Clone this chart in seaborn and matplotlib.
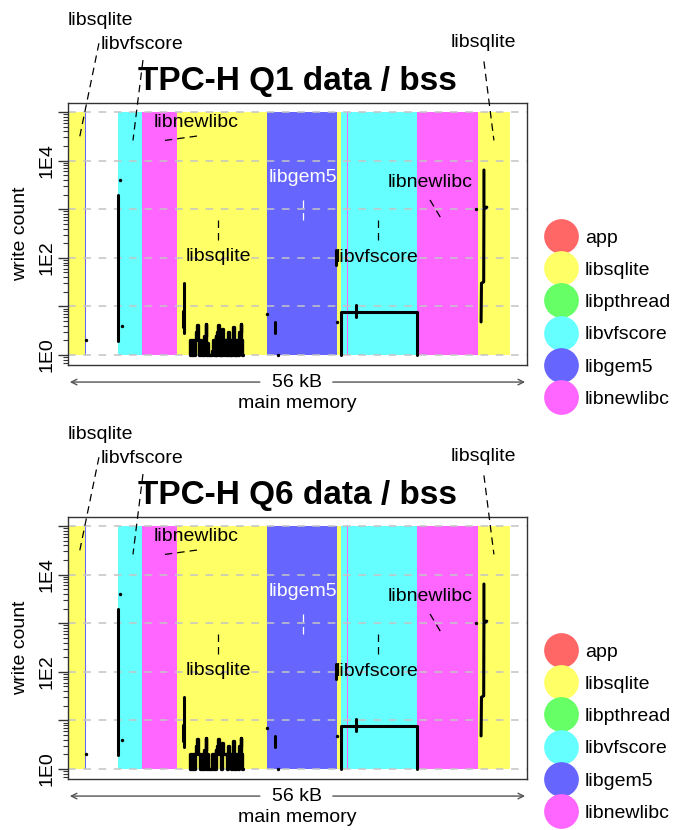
import numpy as np
import pandas as pd
import matplotlib
matplotlib.use("Agg")
import matplotlib.pyplot as plt
from matplotlib.lines import Line2D
from matplotlib.ticker import FixedLocator, FixedFormatter, LogLocator, NullFormatter
import seaborn as sns

# library colours
lib_colors = {
    "app": "#FF6666",
    "libsqlite": "#FFFF66",
    "libpthread": "#66FF66",
    "libvfscore": "#66FFFF",
    "libgem5": "#6666FF",
    "libnewlibc": "#FF66FF",
}
legend_libs = ["app", "libsqlite", "libpthread", "libvfscore", "libgem5", "libnewlibc"]

# memory regions (kB offsets inside the 56 kB data / bss window)
region_lib = ["libsqlite", "libgem5", "libvfscore", "libnewlibc", "libsqlite", "libgem5",
              "libsqlite", "libvfscore", "libnewlibc", "libnewlibc", "libsqlite"]
region_start = [0.00, 2.09, 6.10, 9.03, 13.30, 24.28, 32.82, 33.31, 34.02, 42.58, 50.02]
region_end = [2.09, 2.19, 9.03, 13.30, 24.28, 32.82, 33.31, 42.58, 34.12, 50.02, 53.93]

# region annotations
ann_text = ["libsqlite", "libvfscore", "libnewlibc", "libgem5",
            "libsqlite", "libvfscore", "libnewlibc", "libsqlite"]
ann_x = [3.97, 9.09, 15.68, 28.61, 18.30, 37.76, 44.23, 50.70]
ann_y = [7.5e6, 2.4e6, 6.2e4, 4.4e3, 105, 100, 3.5e3, 2.75e6]
ann_color = ["black", "black", "black", "white", "black", "black", "black", "black"]
lead_x0 = [3.78, 9.15, 15.74, 28.67, 18.30, 37.82, 44.17, 50.75]
lead_y0 = [2.6e6, 1.17e6, 3.2e4, 1.55e3, 600, 600, 1.55e3, 1.1e6]
lead_x1 = [1.34, 7.93, 11.83, 28.67, 18.30, 37.82, 45.63, 51.97]
lead_y1 = [2.6e4, 2.6e4, 2.6e4, 600, 235, 235, 600, 2.6e4]

# write-count traces (address in kB, write count, trace id)
trace_addr = [6.10, 6.10,
              14.20, 14.20,
              14.02, 14.02,
              25.25, 25.25,
              32.75, 32.75,
              33.31, 33.31, 42.58, 42.58,
              35.14, 35.14,
              50.75, 50.75, 51.10, 50.75, 50.72, 50.45, 50.40]
trace_count = [1.9, 2000,
               30, 2.8,
               8, 3.8,
               4.8, 2.8,
               145, 70,
               1, 7.6, 7.6, 1,
               10.7, 6,
               6400, 1100, 1100, 1000, 32, 30, 4.8]
trace_id = [1, 1, 2, 2, 3, 3, 4, 4, 5, 5, 6, 6, 6, 6, 7, 7, 8, 8, 8, 8, 8, 8, 8]

# isolated single writes
dot_addr = [2.20, 6.34, 6.59, 24.28, 25.60, 32.82, 49.80]
dot_count = [2, 4000, 4, 7, 1, 4.8, 1000]

# dense libsqlite area
busy_addr = [14.88, 15.00, 15.13, 15.25, 15.37, 15.49, 15.62, 15.74, 15.86, 15.98,
             16.10, 16.23, 16.35, 16.47, 16.59, 16.72, 16.84, 16.96, 17.08, 17.20,
             17.33, 17.45, 17.57, 17.69, 17.81, 17.94, 18.06, 18.18, 18.30, 18.42,
             18.55, 18.67, 18.79, 18.91, 19.03, 19.16, 19.28, 19.40, 19.52, 19.64,
             19.77, 19.89, 20.01, 20.13, 20.25, 20.38, 20.50, 20.62, 20.74, 20.86,
             20.99, 21.11, 21.23, 21.35]
busy_q1 = [2, 1, 2, 1, 2, 1, 2, 3, 4.2, 2,
           1, 2, 1.3, 1, 1, 2.5, 4.3, 1, 1.8, 1,
           1, 1, 1, 1.2, 2, 1, 2.5, 1, 3, 4.2,
           1, 2, 1, 3.5, 1, 2, 1, 2, 1, 3,
           1, 2, 1, 2, 3.8, 1, 2, 1, 2, 1,
           3, 4.3, 2, 1]
busy_q6 = [2, 1, 2, 1, 2, 1, 2, 3, 4.2, 2,
           2, 1, 2, 1, 1, 2.5, 4.3, 1, 2, 1,
           1, 1, 1, 2, 2, 1, 2.5, 2, 3, 4.2,
           2, 2, 1, 3.5, 2, 2, 2, 2, 1, 3,
           2, 2, 1, 2, 3.8, 1, 2, 2, 2, 1,
           3, 4.3, 2, 1]

panels = [("TPC-H Q1 data / bss", busy_q1, 0.6163),
          ("TPC-H Q6 data / bss", busy_q6, 0.1175)]

sns.set_theme(style="white")
plt.rcParams["font.family"] = ["Liberation Sans", "DejaVu Sans"]
plt.rcParams["text.color"] = "black"
plt.rcParams["axes.labelcolor"] = "black"

fig = plt.figure(figsize=(6.73, 8.30), dpi=100)
ax_bottoms = [0.5602, 0.0614]

for (title, busy_cnt, leg_y), bottom in zip(panels, ax_bottoms):
    ax = fig.add_axes([0.1010, bottom, 0.6820, 0.3157])
    ax.set_yscale("log")

    # coloured library regions
    for lib, x0, x1 in zip(region_lib, region_start, region_end):
        ax.bar(x0, 1e5 - 1, width=x1 - x0, bottom=1, align="edge",
               color=lib_colors[lib], linewidth=0, zorder=1)

    # dashed decade grid above the regions
    ax.set_axisbelow("line")
    ax.yaxis.grid(True, which="major", color="#C4C4C4", linestyle=(0, (5, 5)), linewidth=1.1)
    ax.xaxis.grid(False)

    traces = pd.DataFrame({"addr": trace_addr, "count": trace_count, "trace": trace_id})
    sns.lineplot(data=traces, x="addr", y="count", units="trace", estimator=None,
                 sort=False, color="black", linewidth=2.2, ax=ax, zorder=4)
    busy = pd.DataFrame({"addr": busy_addr, "count": busy_cnt})
    sns.lineplot(data=busy, x="addr", y="count", estimator=None, sort=False,
                 color="black", linewidth=2.4, drawstyle="steps-mid", ax=ax, zorder=4)
    dots = pd.DataFrame({"addr": dot_addr, "count": dot_count})
    sns.scatterplot(data=dots, x="addr", y="count", color="black", s=6,
                    marker="o", linewidth=0, ax=ax, zorder=4)

    # annotations with dashed leaders
    for t, x, y, c, x0, y0, x1, y1 in zip(ann_text, ann_x, ann_y, ann_color,
                                          lead_x0, lead_y0, lead_x1, lead_y1):
        ax.text(x, y, t, ha="center", va="center", fontsize=14, color=c,
                clip_on=False, zorder=6)
        ax.plot([x0, x1], [y0, y1], color=c, linewidth=0.9,
                linestyle=(0, (6, 4)), clip_on=False, zorder=6)

    ax.set_xlim(0, 56)
    ax.set_ylim(10 ** -0.206, 10 ** 5.185)
    ax.yaxis.set_major_locator(FixedLocator([1, 10, 100, 1e3, 1e4, 1e5]))
    ax.yaxis.set_major_formatter(FixedFormatter(["1E0", "", "1E2", "", "1E4", ""]))
    ax.yaxis.set_minor_locator(LogLocator(base=10, subs=range(2, 10), numticks=20))
    ax.yaxis.set_minor_formatter(NullFormatter())
    ax.tick_params(axis="y", which="major", left=True, length=7, width=1,
                   color="#333333", labelcolor="black", labelsize=14, pad=2)
    ax.tick_params(axis="y", which="minor", left=True, length=3.5, width=0.8, color="#333333")
    for lab in ax.get_yticklabels():
        lab.set_rotation(90)
        lab.set_va("center")
    ax.set_xticks([])
    ax.set_xlabel("")
    ax.set_ylabel("write count", fontsize=14, labelpad=6.5)
    for sp in ax.spines.values():
        sp.set_color("#333333")
        sp.set_linewidth(1.0)

    ax.text(0.5, 1.0496, title, transform=ax.transAxes, ha="center", va="baseline",
            fontsize=24, fontweight="bold")

    # 56 kB span arrow
    ax.text(0.5, -0.065, "56 kB", transform=ax.transAxes, ha="center", va="center", fontsize=14)
    ax.text(0.5, -0.145, "main memory", transform=ax.transAxes, ha="center", va="center", fontsize=14)
    arrow = dict(arrowstyle="->", color="#555555", lw=1.0, shrinkA=0, shrinkB=0,
                 mutation_scale=10)
    ax.annotate("", xy=(0.004, -0.065), xytext=(0.418, -0.065), xycoords="axes fraction",
                textcoords="axes fraction", arrowprops=arrow)
    ax.annotate("", xy=(0.996, -0.065), xytext=(0.577, -0.065), xycoords="axes fraction",
                textcoords="axes fraction", arrowprops=arrow)

    handles = [Line2D([], [], marker="o", linestyle="", markersize=25,
                      markerfacecolor=lib_colors[l], markeredgecolor="none") for l in legend_libs]
    ax.legend(handles, legend_libs, loc="center left", bbox_to_anchor=(0.8192, leg_y),
              bbox_transform=fig.transFigure, frameon=False, fontsize=14,
              handlelength=1.0, handletextpad=0.73, labelspacing=0.75, borderpad=0,
              borderaxespad=0)

fig.savefig("out.png", dpi=100)
